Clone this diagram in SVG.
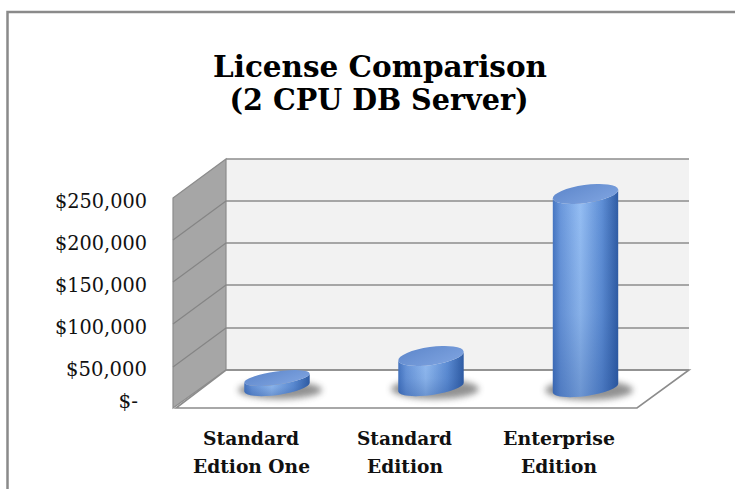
<svg xmlns="http://www.w3.org/2000/svg" width="735" height="489" viewBox="0 0 735 489">
<style>
.title{font-family:"DejaVu Serif","Liberation Serif",serif;font-weight:bold;font-size:30px;fill:#000;text-anchor:middle}
.ax{font-family:"DejaVu Serif","Liberation Serif",serif;font-size:20px;fill:#111;text-anchor:end}
.cat{font-family:"DejaVu Serif","Liberation Serif",serif;font-weight:bold;font-size:18.5px;fill:#111;text-anchor:middle}
.grid{stroke:#8c8c8c;stroke-width:1.6;fill:none}
.side{stroke:#858585;stroke-width:1.2;fill:none}
.body{fill:url(#bodyGrad)}
.shade{fill:url(#shadeGrad)}
.top{fill:url(#topGrad)}
.shadow{fill:#4a4a4a;opacity:0.6;filter:url(#blur)}
</style>
<defs>
<linearGradient id="bodyGrad" x1="0" y1="0" x2="1" y2="0">
<stop offset="0" stop-color="#4676c2"/>
<stop offset="0.12" stop-color="#6b98dc"/>
<stop offset="0.42" stop-color="#96bff4"/>
<stop offset="0.75" stop-color="#5f8fd6"/>
<stop offset="1" stop-color="#2f5ca4"/>
</linearGradient>
<linearGradient id="shadeGrad" x1="0" y1="0" x2="0" y2="1">
<stop offset="0" stop-color="#1d4690" stop-opacity="0"/>
<stop offset="0.6" stop-color="#1d4690" stop-opacity="0.12"/>
<stop offset="1" stop-color="#1d4690" stop-opacity="0.35"/>
</linearGradient>
<linearGradient id="topGrad" x1="0" y1="0" x2="1" y2="1">
<stop offset="0" stop-color="#5f88cc"/>
<stop offset="0.5" stop-color="#6f96d6"/>
<stop offset="1" stop-color="#7ea3e0"/>
</linearGradient>
<filter id="blur" x="-30%" y="-60%" width="160%" height="220%">
<feGaussianBlur stdDeviation="3"/>
</filter>
</defs>

<rect width="735" height="489" fill="#ffffff"/>
<path d="M7.5,489 V12 H735" fill="none" stroke="#8a8a8a" stroke-width="2.5"/>

<g id="title">
<text class="title" x="380" y="77" textLength="334" lengthAdjust="spacingAndGlyphs">License Comparison</text>
<text class="title" x="379" y="110" textLength="299" lengthAdjust="spacingAndGlyphs">(2 CPU DB Server)</text>
</g>

<g id="plot-area">
<rect x="226" y="159" width="463" height="211" fill="#f2f2f2"/>
<polygon points="173,198 226,159 226,370 173,408" fill="#a6a6a6" stroke="#8c8c8c" stroke-width="1.2"/>
<polygon points="226,370 689,370 637,408 176,408" fill="#ffffff" stroke="#8c8c8c" stroke-width="1.6"/>
<g class="grid">
<line x1="226" y1="159" x2="689" y2="159"/>
<line x1="226" y1="201" x2="689" y2="201"/>
<line x1="226" y1="243" x2="689" y2="243"/>
<line x1="226" y1="285" x2="689" y2="285"/>
<line x1="226" y1="328" x2="689" y2="328"/>
<line x1="226" y1="370" x2="689" y2="370"/>
</g>
<g class="side">
<line x1="173" y1="240" x2="226" y2="201"/>
<line x1="173" y1="282" x2="226" y2="243"/>
<line x1="173" y1="324" x2="226" y2="285"/>
<line x1="173" y1="367" x2="226" y2="328"/>
</g>
</g>

<g id="y-axis">
<text class="ax" x="147" y="208" textLength="92" lengthAdjust="spacingAndGlyphs">$250,000</text>
<text class="ax" x="147" y="250" textLength="92" lengthAdjust="spacingAndGlyphs">$200,000</text>
<text class="ax" x="147" y="292" textLength="92" lengthAdjust="spacingAndGlyphs">$150,000</text>
<text class="ax" x="147" y="334" textLength="92" lengthAdjust="spacingAndGlyphs">$100,000</text>
<text class="ax" x="147" y="376" textLength="81" lengthAdjust="spacingAndGlyphs">$50,000</text>
<text class="ax" x="138" y="408">$-</text>
</g>

<g id="bar-standard-edition-one">
<ellipse class="shadow" cx="280" cy="390" rx="42" ry="9"/>
<path class="body" d="M244.3,382.6 L244.3,391.6 A33 8 -8 0 0 309.7,382.4 L309.7,373.4 A33 6.5 -8 0 1 244.3,382.6 Z"/>
<path class="shade" d="M244.3,382.6 L244.3,391.6 A33 8 -8 0 0 309.7,382.4 L309.7,373.4 A33 6.5 -8 0 1 244.3,382.6 Z"/>
<ellipse class="top" cx="277" cy="378" rx="33" ry="6.5" transform="rotate(-8 277 378)"/>
</g>

<g id="bar-standard-edition">
<ellipse class="shadow" cx="435" cy="389" rx="44" ry="10"/>
<path class="body" d="M398.3,360.6 L398.3,391.6 A33 8 -8 0 0 463.7,382.4 L463.7,351.4 A33 9 -8 0 1 398.3,360.6 Z"/>
<path class="shade" d="M398.3,360.6 L398.3,391.6 A33 8 -8 0 0 463.7,382.4 L463.7,351.4 A33 9 -8 0 1 398.3,360.6 Z"/>
<ellipse class="top" cx="431" cy="356" rx="33" ry="9" transform="rotate(-8 431 356)"/>
</g>

<g id="bar-enterprise-edition">
<ellipse class="shadow" cx="589" cy="390" rx="44" ry="10"/>
<path class="body" d="M552.8,198.6 L552.8,392.6 A33 8 -8 0 0 618.2,383.4 L618.2,189.4 A33 9 -8 0 1 552.8,198.6 Z"/>
<path class="shade" d="M552.8,198.6 L552.8,392.6 A33 8 -8 0 0 618.2,383.4 L618.2,189.4 A33 9 -8 0 1 552.8,198.6 Z"/>
<ellipse class="top" cx="585.5" cy="194" rx="33" ry="9" transform="rotate(-8 585.5 194)"/>
</g>

<g id="x-axis">
<text class="cat" x="251" y="445" textLength="96" lengthAdjust="spacingAndGlyphs">Standard</text>
<text class="cat" x="251.5" y="473" textLength="117" lengthAdjust="spacingAndGlyphs">Edtion One</text>
<text class="cat" x="404.5" y="445" textLength="95" lengthAdjust="spacingAndGlyphs">Standard</text>
<text class="cat" x="405" y="473" textLength="76" lengthAdjust="spacingAndGlyphs">Edition</text>
<text class="cat" x="559" y="445" textLength="112" lengthAdjust="spacingAndGlyphs">Enterprise</text>
<text class="cat" x="559" y="473" textLength="76" lengthAdjust="spacingAndGlyphs">Edition</text>
</g>
</svg>
